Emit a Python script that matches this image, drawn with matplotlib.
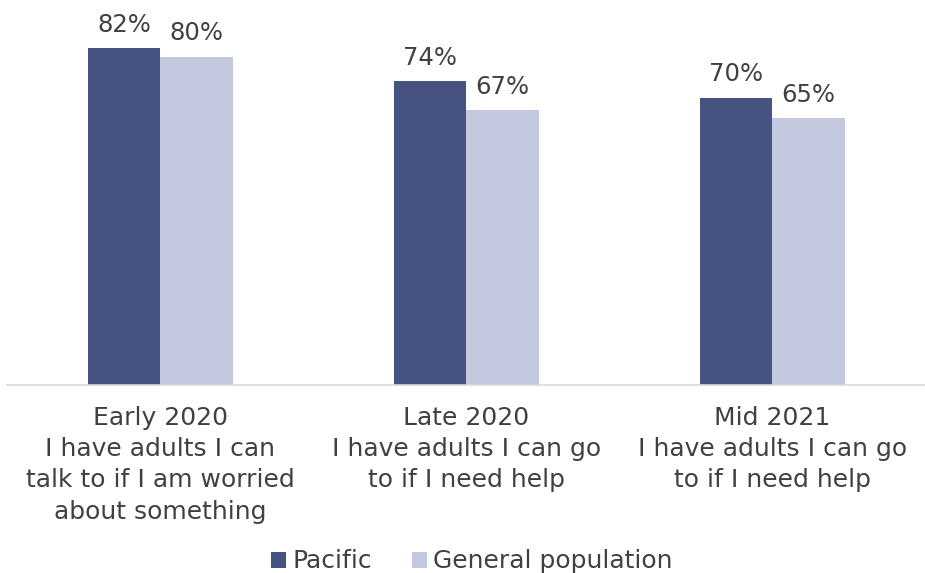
import matplotlib.pyplot as plt
import numpy as np

categories = [
    "Early 2020\nI have adults I can\ntalk to if I am worried\nabout something",
    "Late 2020\nI have adults I can go\nto if I need help",
    "Mid 2021\nI have adults I can go\nto if I need help",
]
pacific = [82, 74, 70]
general = [80, 67, 65]
series_names = ["Pacific", "General population"]

dark = "#465281"
light = "#C3C8DE"
text_col = "#404040"

plt.rcParams["font.family"] = ["DejaVu Sans"]

fig = plt.figure(figsize=(9.25, 5.73), dpi=100)
ax = fig.add_axes([0.008, 0.328, 0.992, 0.640])

x = np.arange(len(categories))
w = 0.237
b1 = ax.bar(x - w / 2, pacific, w, color=dark, label=series_names[0])
b2 = ax.bar(x + w / 2, general, w, color=light, label=series_names[1])

for bars in (b1, b2):
    for bar in bars:
        ax.annotate(f"{bar.get_height():.0f}%",
                    (bar.get_x() + bar.get_width() / 2, bar.get_height()),
                    xytext=(0, 8), textcoords="offset points",
                    ha="center", va="bottom", fontsize=17.5, color=text_col)

ax.set_xlim(-0.5, 2.5)
ax.set_ylim(0, 89.3)
ax.set_yticks([])
ax.set_xticks(x)
ax.set_xticklabels(categories, fontsize=18, color=text_col, linespacing=1.38)
ax.tick_params(axis="x", length=0, pad=15)
for s in ["top", "right", "left"]:
    ax.spines[s].set_visible(False)
ax.spines["bottom"].set_color("#D9D9D9")
ax.spines["bottom"].set_linewidth(1.2)

fig.legend(loc="lower center", bbox_to_anchor=(0.51, -0.04), ncol=2,
           frameon=False, fontsize=18, handlelength=0.6, handleheight=0.6,
           handletextpad=0.25, columnspacing=1.6, labelcolor=text_col)

fig.savefig("out.png", dpi=100)
